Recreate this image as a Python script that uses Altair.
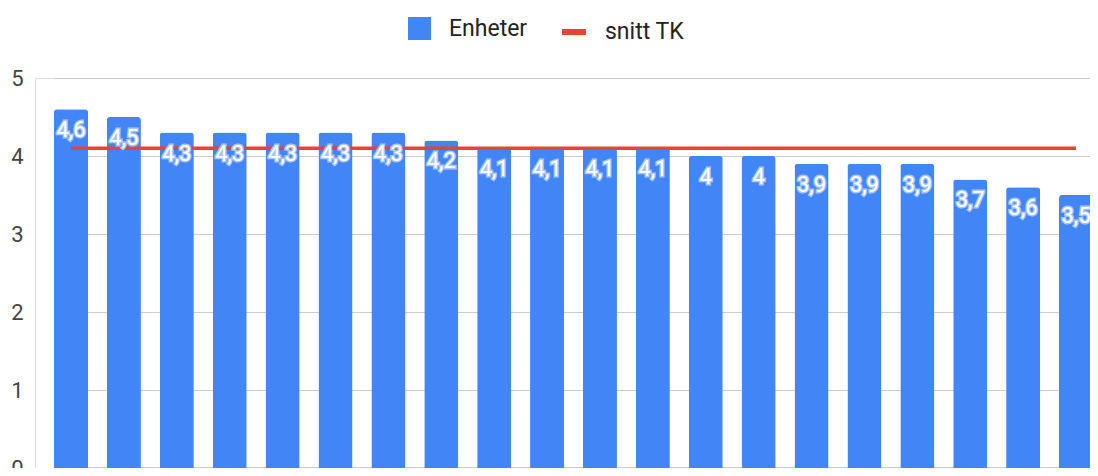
import altair as alt
import pandas as pd

categories = [f"Enhet {i}" for i in range(1, 21)]
values = [4.6, 4.5, 4.3, 4.3, 4.3, 4.3, 4.3, 4.2, 4.1, 4.1,
          4.1, 4.1, 4.0, 4.0, 3.9, 3.9, 3.9, 3.7, 3.6, 3.5]
snitt_tk = [4.1, 4.1, 4.1, 4.1, 4.1, 4.1, 4.1, 4.1, 4.1, 4.1,
            4.1, 4.1, 4.1, 4.1, 4.1, 4.1, 4.1, 4.1, 4.1, 4.1]
y_ticks = [0, 1, 2, 3, 4, 5]

df = pd.DataFrame({"cat": categories, "value": values, "snitt": snitt_tk})

BLUE = "#4285F4"
RED = "#EA4335"
FONT = "Roboto"

base = alt.Chart(df).transform_calculate(
    label="replace(format(datum.value, '.1~f'), '.', ',')",
    s_bar="'Enheter'",
    s_line="'snitt TK'",
)

xenc = alt.X(
    "cat:N",
    sort=None,
    title=None,
    scale=alt.Scale(range=[19, 1058], paddingInner=0.357, paddingOuter=0),
    axis=alt.Axis(labels=False, ticks=False, domain=True, domainColor="#333333",
                  domainWidth=1.5, grid=False),
)

yscale = alt.Scale(domain=[0, 5])

bars = base.mark_bar(cornerRadiusTopLeft=3, cornerRadiusTopRight=3).encode(
    x=xenc,
    y=alt.Y("value:Q", scale=yscale, title=None,
            axis=alt.Axis(values=y_ticks, format="d", grid=True, gridColor="#cccccc",
                          domain=False, ticks=False, labelPadding=12, labelFontSize=22,
                          labelColor="#444444", labelFont=FONT)),
    fill=alt.Fill("s_bar:N", scale=alt.Scale(domain=["Enheter"], range=[BLUE]),
                  legend=alt.Legend(title=None, orient="none", legendX=373, legendY=-61,
                                    symbolType="square", symbolSize=529, symbolStrokeWidth=0,
                                    labelFontSize=23, labelFont=FONT, labelColor="#222222",
                                    labelOffset=18, padding=0)),
)

line = base.mark_line(strokeWidth=3.5).encode(
    x=xenc,
    y=alt.Y("snitt:Q", scale=yscale),
    stroke=alt.Stroke("s_line:N", scale=alt.Scale(domain=["snitt TK"], range=[RED]),
                      legend=alt.Legend(title=None, orient="none", legendX=524, legendY=-61,
                                        symbolType="stroke", symbolSize=576,
                                        symbolStrokeWidth=6,
                                        labelFontSize=23, labelFont=FONT, labelColor="#222222",
                                        labelOffset=16, padding=0)),
)

halo = base.mark_text(dy=21, baseline="middle", align="center", font=FONT, fontSize=22,
                      fill=BLUE, stroke="#a9c5fa", strokeWidth=3).encode(
    x=xenc, y=alt.Y("value:Q", scale=yscale), text="label:N")

labels = base.mark_text(dy=21, baseline="middle", align="center", font=FONT, fontSize=22,
                        color="white").encode(
    x=xenc, y=alt.Y("value:Q", scale=yscale), text="label:N")

chart = alt.layer(bars, line, halo, labels).properties(
    width=1055,
    height=390,
    autosize=alt.AutoSizeParams(type="none"),
    padding={"left": 27, "top": 70, "right": 0, "bottom": 0},
).configure_view(strokeWidth=0).configure(background="white")

chart.save("out.html", embed_options={"renderer": "svg", "actions": False})
